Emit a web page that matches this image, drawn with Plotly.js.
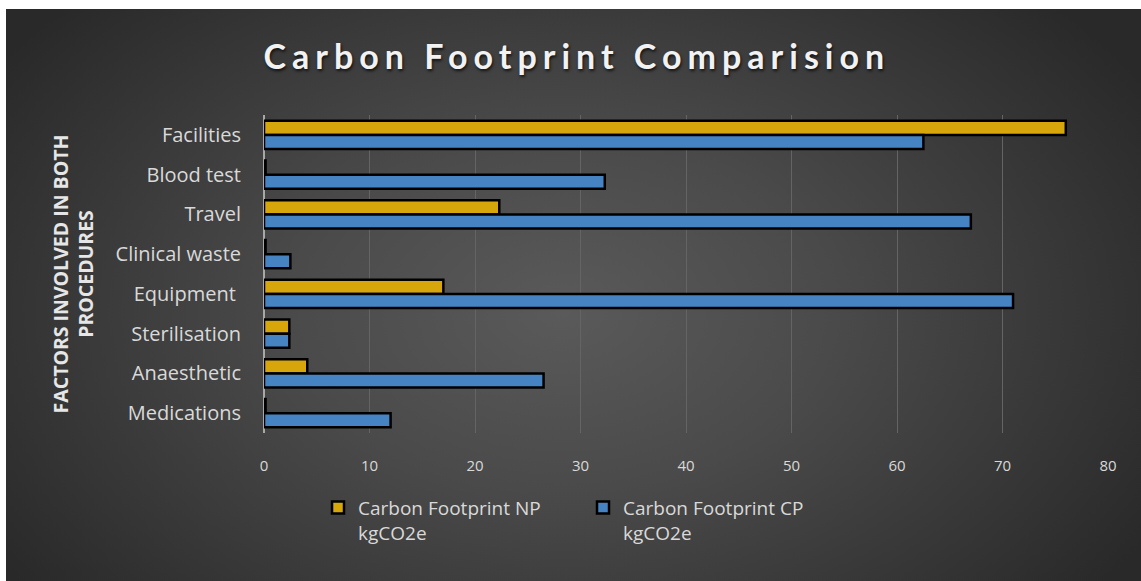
<!DOCTYPE html>
<html>
<head>
<meta charset="utf-8">
<script src="https://cdn.plot.ly/plotly-3.0.1.min.js"></script>
<style>
  html, body { margin: 0; padding: 0; background: #ffffff; width: 1141px; height: 581px; overflow: hidden; }
  #chart {
    position: absolute; left: 6px; top: 9px; width: 1135px; height: 572px;
    background: radial-gradient(ellipse 60% 78% at 49% 53%, #5a5a5a 0%, #4a4a4a 40%, #292929 100%);
  }
  .gtitle { letter-spacing: 6px; }
</style>
</head>
<body>
<div id="chart"></div>
<script>
const categories = ["Facilities", "Blood test", "Travel", "Clinical waste", "Equipment ", "Sterilisation", "Anaesthetic", "Medications"];
const npValues = [76, 0.15, 22.3, 0.15, 17, 2.4, 4.1, 0.15];
const cpValues = [62.5, 32.3, 67, 2.5, 71, 2.4, 26.5, 12];
const seriesNames = ["Carbon Footprint NP<br>kgCO2e", "Carbon Footprint CP<br>kgCO2e"];
const xTicks = [0, 10, 20, 30, 40, 50, 60, 70, 80];

const txt = '#d9d9d9';
const titleFont = 'Lato, "Open Sans", sans-serif';
const baseFont = '"Open Sans", Lato, sans-serif';

const traces = [
  {
    type: 'bar', orientation: 'h', name: seriesNames[0],
    y: categories, x: npValues,
    marker: { color: '#d6a60a', line: { color: '#000000', width: 2.5 } },
    hoverinfo: 'x+y'
  },
  {
    type: 'bar', orientation: 'h', name: seriesNames[1],
    y: categories, x: cpValues,
    marker: { color: '#4683c3', line: { color: '#000000', width: 2.5 } },
    hoverinfo: 'x+y'
  }
];

const layout = {
  width: 1135, height: 572,
  paper_bgcolor: 'rgba(0,0,0,0)',
  plot_bgcolor: 'rgba(0,0,0,0)',
  margin: { l: 258, r: 33, t: 106, b: 148 },
  barmode: 'group',
  bargap: 0.29,
  bargroupgap: 0,
  font: { family: baseFont, color: txt, size: 18 },
  title: {
    text: '<b>Carbon Footprint Comparision</b>',
    x: 0.503, xref: 'container', xanchor: 'center',
    y: 1 - 48 / 572, yref: 'container', yanchor: 'middle',
    font: { family: titleFont, size: 34, color: '#f2f2f2', shadow: '1px 2px 3px rgba(0,0,0,0.7)' }
  },
  xaxis: {
    range: [0, 80],
    tickvals: xTicks,
    ticktext: xTicks.map(String),
    showgrid: true, gridcolor: '#646464', gridwidth: 1,
    zeroline: true, zerolinecolor: '#a8a8a8', zerolinewidth: 1.5,
    showline: false,
    ticks: '',
    ticklabelstandoff: 22,
    tickfont: { family: baseFont, size: 15, color: txt },
    fixedrange: true
  },
  yaxis: {
    autorange: 'reversed',
    type: 'category',
    categoryorder: 'array', categoryarray: categories,
    showgrid: false, zeroline: false, showline: false,
    ticks: '',
    ticklabelstandoff: 22,
    tickfont: { family: baseFont, size: 20, color: txt },
    automargin: true,
    title: {
      text: '<b>FACTORS INVOLVED IN BOTH<br>PROCEDURES</b>',
      font: { family: baseFont, size: 19.5, color: '#e6e6e6' },
      standoff: 16
    },
    fixedrange: true
  },
  legend: {
    orientation: 'h',
    x: 0.064, xanchor: 'left',
    y: -0.175, yanchor: 'top',
    valign: 'top',
    entrywidth: 220, entrywidthmode: 'pixels',
    font: { family: baseFont, size: 19, color: txt },
    bgcolor: 'rgba(0,0,0,0)',
    itemclick: false, itemdoubleclick: false
  },
  showlegend: true
};

Plotly.newPlot('chart', traces, layout, { displayModeBar: false, responsive: false });
</script>
</body>
</html>
